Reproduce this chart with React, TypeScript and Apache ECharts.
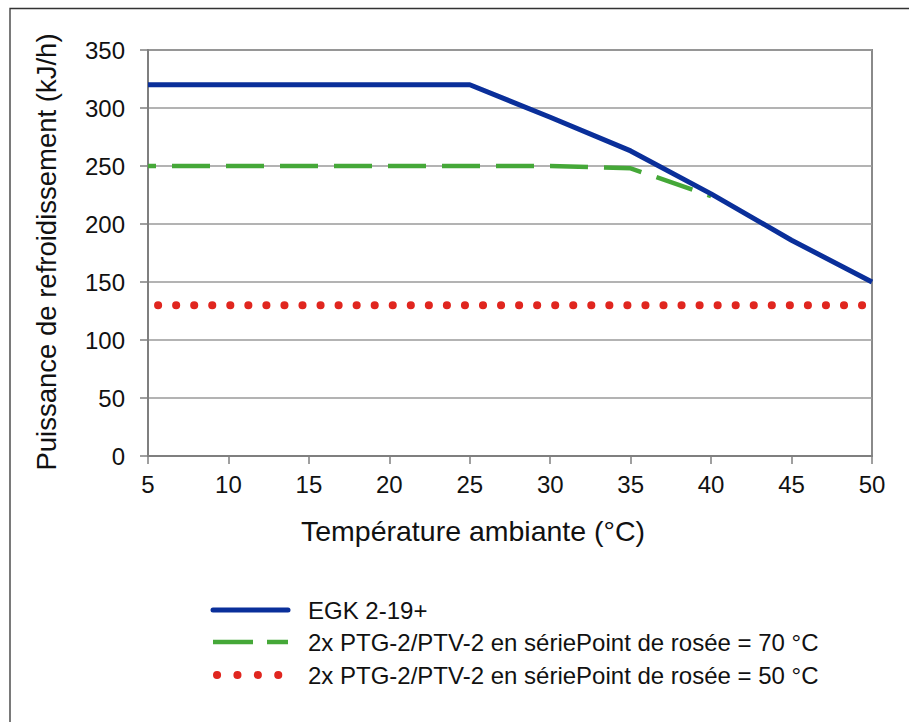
import React, { useEffect, useRef } from "react";
import * as echarts from "echarts";

const temperatures = [5, 10, 15, 20, 25, 30, 35, 40, 45, 50];
const egkValues = [320, 320, 320, 320, 320, 292, 263, 226, 186, 150];
const ptg70Temps = [5, 10, 15, 20, 25, 30, 35, 40];
const ptg70Values = [250, 250, 250, 250, 250, 250, 248, 224];
const ptg50Values = [130, 130, 130, 130, 130, 130, 130, 130, 130, 130];
const seriesNames = [
  "EGK 2-19+",
  "2x PTG-2/PTV-2 en sériePoint de rosée = 70 °C",
  "2x PTG-2/PTV-2 en sériePoint de rosée = 50 °C",
];
const xTitle = "Température ambiante (°C)";
const yTitle = "Puissance de refroidissement (kJ/h)";
const xMin = 5, xMax = 50, xStep = 5;
const yMin = 0, yMax = 350, yStep = 50;

const FONT = "'Liberation Sans', Arial, sans-serif";
const BLUE = "#0a2f9a";
const GREEN = "#45a838";
const RED = "#e0261f";

const legendRowsY = [610, 642, 675];
const legendStyles = [
  { stroke: BLUE, lineWidth: 5, x1: 213, x2: 288, lineCap: "round" as const },
  { stroke: GREEN, lineWidth: 4.5, x1: 213, x2: 288, lineDash: [40, 14], lineCap: "butt" as const },
  { stroke: RED, lineWidth: 8, x1: 217, x2: 279, lineDash: [0.1, 20.3], lineCap: "round" as const },
];

export default function App() {
  const ref = useRef<HTMLDivElement>(null);
  useEffect(() => {
    if (!ref.current) return;
    const chart = echarts.init(ref.current, null, { renderer: "svg" });
    const pairs = (xs: number[], ys: number[]) => xs.map((x, i) => [x, ys[i]]);
    const legendGraphics: any[] = [];
    seriesNames.forEach((name, i) => {
      const s = legendStyles[i];
      legendGraphics.push({
        type: "line", silent: true,
        shape: { x1: s.x1, y1: legendRowsY[i], x2: s.x2, y2: legendRowsY[i] },
        style: { stroke: s.stroke, lineWidth: s.lineWidth, lineDash: (s as any).lineDash, lineCap: s.lineCap },
      });
      legendGraphics.push({
        type: "text", silent: true, x: 308, y: legendRowsY[i],
        style: { text: name, font: `24px ${FONT}`, fill: "#111", align: "left", verticalAlign: "middle" },
      });
    });
    chart.setOption({
      animation: false,
      backgroundColor: "#ffffff",
      textStyle: { fontFamily: FONT },
      grid: { left: 148, top: 50, right: 37, bottom: 266, show: true, borderColor: "#8a8a8a", borderWidth: 2, containLabel: false },
      xAxis: {
        type: "value", min: xMin, max: xMax, interval: xStep,
        axisLine: { show: true, lineStyle: { color: "#7f7f7f", width: 2 } },
        axisTick: { show: true, inside: false, length: 8, lineStyle: { color: "#7f7f7f", width: 1.5 } },
        axisLabel: { color: "#111", fontSize: 24, margin: 16, fontFamily: FONT },
        splitLine: { show: false },
      },
      yAxis: {
        type: "value", min: yMin, max: yMax, interval: yStep,
        axisLine: { show: true, lineStyle: { color: "#7f7f7f", width: 2 } },
        axisTick: { show: true, inside: false, length: 8, lineStyle: { color: "#7f7f7f", width: 1.5 } },
        axisLabel: { color: "#111", fontSize: 24, margin: 23, fontFamily: FONT },
        splitLine: { show: true, lineStyle: { color: "#9a9a9a", width: 1.5 } },
      },
      legend: { show: false },
      graphic: [
        { type: "rect", silent: true, z: -10, shape: { x: 10, y: 8.5, width: 1000, height: 1000 }, style: { fill: "none", stroke: "#333", lineWidth: 1.3 } },
        { type: "text", silent: true, x: 473, y: 531, style: { text: xTitle, font: `28.5px ${FONT}`, fill: "#111", align: "center", verticalAlign: "middle" } },
        { type: "text", silent: true, x: 46, y: 252, rotation: Math.PI / 2, style: { text: yTitle, font: `27.5px ${FONT}`, fill: "#111", align: "center", verticalAlign: "middle" } },
        ...legendGraphics,
      ],
      series: [
        {
          name: seriesNames[0], type: "line", z: 5, showSymbol: false, symbol: "none",
          data: pairs(temperatures, egkValues),
          lineStyle: { color: BLUE, width: 5 }, itemStyle: { color: BLUE },
        },
        {
          name: seriesNames[1], type: "line", z: 3, showSymbol: false, symbol: "none",
          data: pairs(ptg70Temps, ptg70Values),
          lineStyle: { color: GREEN, width: 4.5, type: [38, 16], dashOffset: 30 }, itemStyle: { color: GREEN },
        },
        {
          name: seriesNames[2], type: "line", z: 2, showSymbol: false, symbol: "none",
          data: pairs(temperatures, ptg50Values),
          lineStyle: { color: RED, width: 8, type: [0.1, 17.95], dashOffset: 8.05, cap: "round" }, itemStyle: { color: RED },
        },
      ],
    });
    return () => chart.dispose();
  }, []);
  return <div ref={ref} style={{ position: "fixed", left: 0, top: 0, width: 909, height: 722 }} />;
}
